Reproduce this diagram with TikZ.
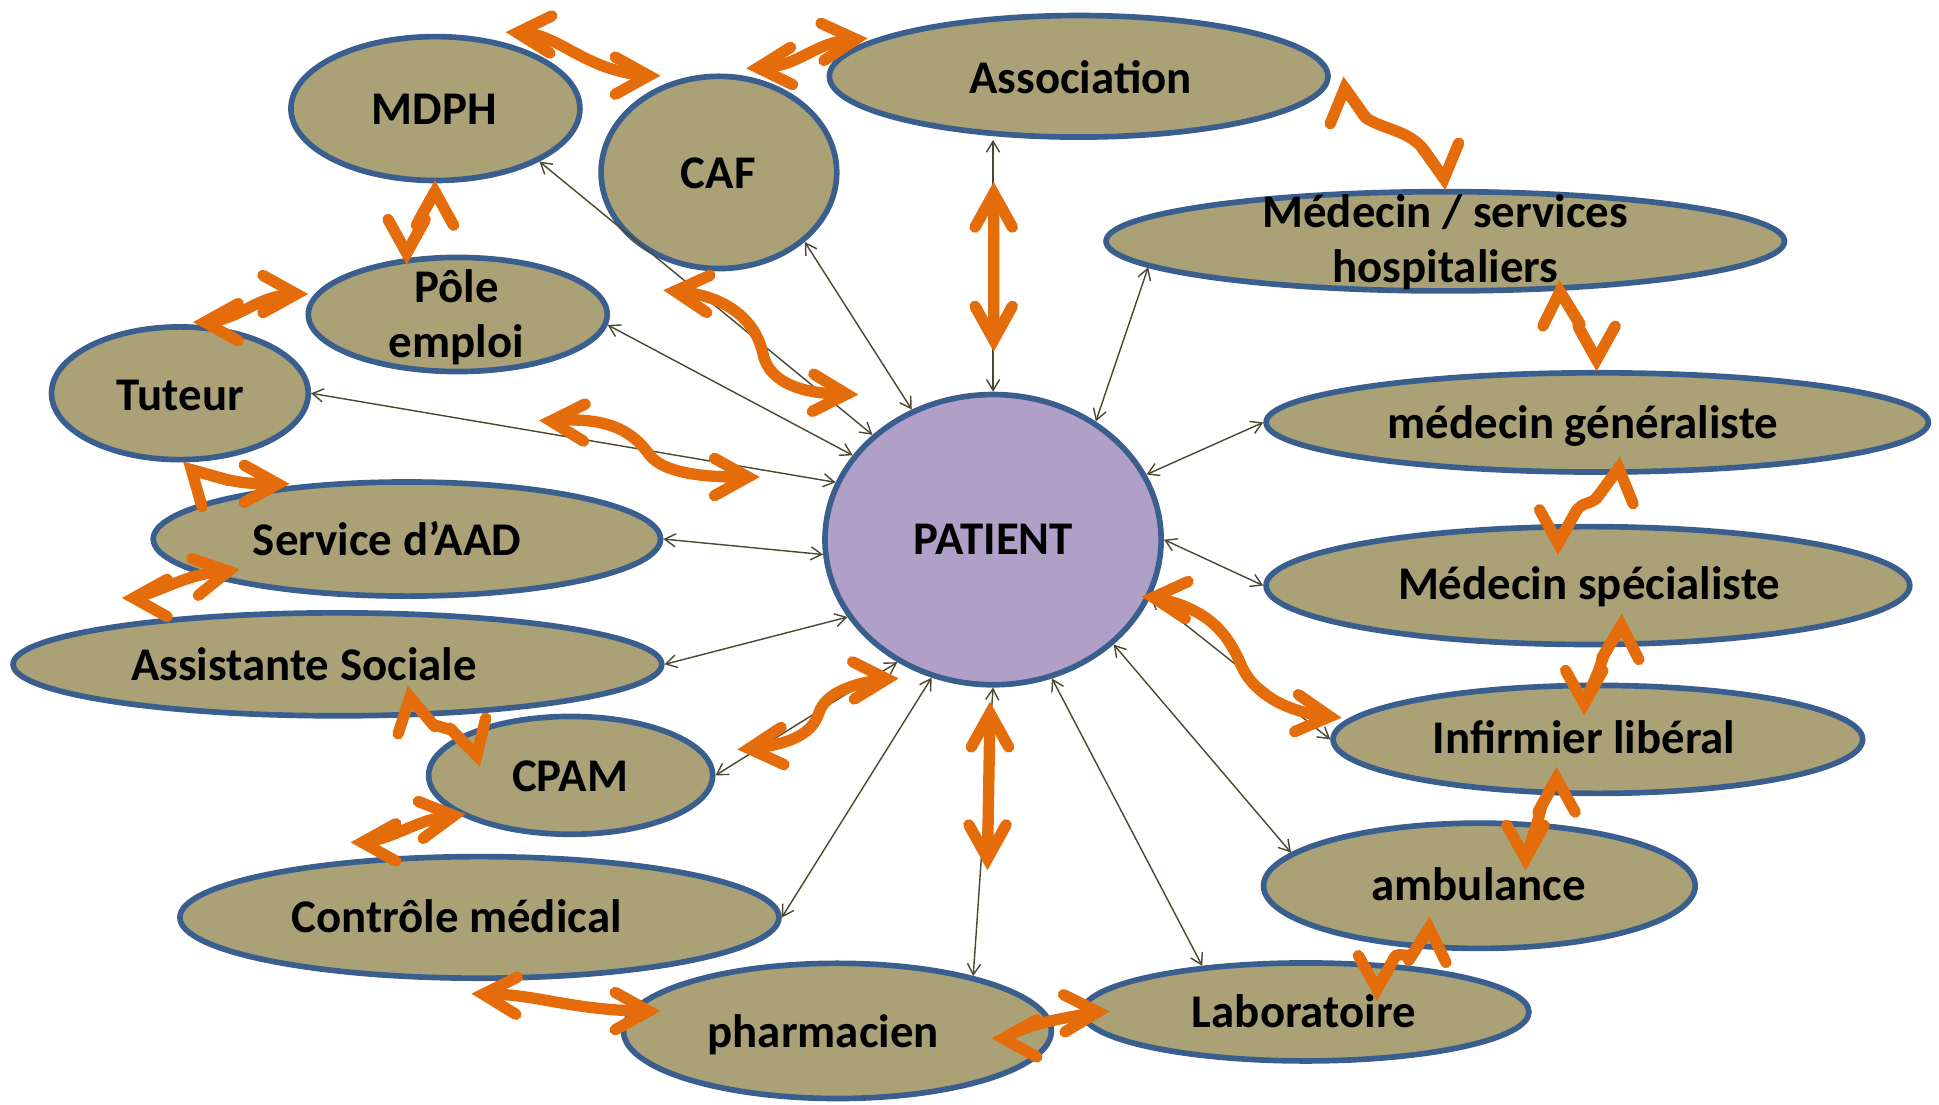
\documentclass[tikz,border=0pt]{standalone}
\usepackage{fontspec}
\setmainfont{Carlito}
\usetikzlibrary{arrows.meta,shapes.geometric,calc}
\definecolor{khaki}{RGB}{170,162,118}
\definecolor{lav}{RGB}{176,160,200}
\definecolor{bord}{RGB}{58,95,142}
\definecolor{orgC}{RGB}{228,108,10}
\definecolor{lineC}{RGB}{75,72,50}
\newcommand\chev[2]{\draw[chevst] ($(#1)+(#2+151:31)$) -- (#1) -- ($(#1)+(#2-151:31)$);}
\begin{document}
\begin{tikzpicture}[x=0.02cm,y=-0.02cm,
  oval/.style={ellipse, draw=bord, line width=2.6pt, fill=khaki, inner sep=0pt},
  txt/.style={font=\fontsize{21.5pt}{25.5pt}\selectfont\bfseries, inner sep=0pt, anchor=base},
  rel/.style={draw=lineC, line width=0.65pt, >={Straight Barb[length=5pt,width=6pt]}, <->},
  flow/.style={draw=orgC, line width=5.2pt, line cap=round, line join=round},
  chevst/.style={draw=orgC, line width=5.2pt, line cap=round, line join=miter}]
\useasboundingbox (0,0) rectangle (1563,890);

% ellipses
\node[oval, minimum width=4.66cm, minimum height=2.32cm] (mdph) at (351,87.5) {};
\node[oval, minimum width=3.80cm, minimum height=3.10cm] (caf) at (579.5,139) {};
\node[oval, minimum width=8.04cm, minimum height=1.96cm] (assoc) at (869.5,61.5) {};
\node[oval, minimum width=10.94cm, minimum height=1.60cm] (serv) at (1165,194.5) {};
\node[oval, minimum width=4.82cm, minimum height=1.84cm] (pole) at (369,253.5) {};
\node[oval, minimum width=4.14cm, minimum height=2.14cm] (tuteur) at (145,317) {};
\node[oval, minimum width=10.68cm, minimum height=1.60cm] (gen) at (1287.5,340.5) {};
\node[oval, fill=lav, minimum width=5.42cm, minimum height=4.68cm] (patient) at (800.5,435) {};
\node[oval, minimum width=8.18cm, minimum height=1.84cm] (aad) at (328,434.5) {};
\node[oval, minimum width=10.38cm, minimum height=1.90cm] (spec) at (1280,472) {};
\node[oval, minimum width=10.46cm, minimum height=1.66cm] (as) at (272,535.5) {};
\node[oval, minimum width=4.58cm, minimum height=1.90cm] (cpam) at (460,625) {};
\node[oval, minimum width=8.54cm, minimum height=1.74cm] (inf) at (1288,596) {};
\node[oval, minimum width=6.96cm, minimum height=2.02cm] (amb) at (1192.5,714) {};
\node[oval, minimum width=9.66cm, minimum height=1.96cm] (ctrl) at (386.5,739.5) {};
\node[oval, minimum width=6.90cm, minimum height=2.18cm] (pharma) at (675,831) {};
\node[oval, minimum width=7.20cm, minimum height=1.58cm] (labo) at (1052.5,815.7) {};

% texts
\node[txt] (mdphT) at (350,100.5) {MDPH};
\node[txt] (cafT) at (579,152) {CAF};
\node[txt] (assocT) at (871,75.2) {Association};
\node[txt] (servT) at (1165,183) {\begin{tabular}[t]{@{}c@{}}Médecin / services\\hospitaliers\end{tabular}};
\node[txt] (poleT) at (368,243.5) {\begin{tabular}[t]{@{}c@{}}Pôle\\emploi\end{tabular}};
\node[txt] (tuteurT) at (145.4,330.6) {Tuteur};
\node[txt] (genT) at (1276,353.3) {médecin généraliste};
\node[txt] (patientT) at (800.7,446.6) {PATIENT};
\node[txt] (aadT) at (312,448) {Service d’AAD};
\node[txt] (specT) at (1281,483.3) {Médecin spécialiste};
\node[txt] (asT) at (245,548.6) {Assistante Sociale};
\node[txt] (cpamT) at (459.6,638) {CPAM};
\node[txt] (infT) at (1277,607.3) {Infirmier libéral};
\node[txt] (ambT) at (1192,726) {ambulance};
\node[txt] (laboT) at (1051,828) {Laboratoire};
\node[txt] (ctrlT) at (368,751.5) {Contrôle médical};
\node[txt] (pharmaT) at (663.6,844.2) {pharmacien};

% thin connectors
\draw[rel] (patient.139) -- (mdph.-27);
\draw[rel] (patient.122) -- (caf.-39);
\draw[rel] (patient.149) -- (pole.-4);
\draw[rel] (patient.160) -- (tuteur.east);
\draw[rel] (patient.185) -- (aad.east);
\draw[rel] (patient.208) -- (as.east);
\draw[rel] (patient.232) -- (cpam.east);
\draw[rel] (patient.246) -- (ctrl.east);
\draw[rel] (patient.south) -- (pharma.22);
\draw[rel] (patient.-67) -- (labo.156);
\draw[rel] (patient.-41) -- (amb.170);
\draw[rel] (patient.-20) -- (inf.west);
\draw[rel] (patient.east) -- (spec.west);
\draw[rel] (patient.23) -- (gen.west);
\draw[rel] (patient.49) -- (serv.185);
\draw[rel] (patient.north) -- (patient.north |- assoc.south);

% orange link end points (tip vertices), anchored to the nodes
\coordinate (a1s) at ($(mdph)+(66,-61.1)$);      \coordinate (a1e) at ($(caf)+(-56.5,-78)$);
\coordinate (a2s) at ($(caf)+(31.5,-84.4)$);     \coordinate (a2e) at ($(assoc)+(-179.5,-29.9)$);
\coordinate (a3s) at ($(assoc)+(214.5,9.5)$);    \coordinate (a3e) at ($(serv)+(-1,-50.5)$);
\coordinate (a4s) at ($(serv)+(92.4,40.5)$);     \coordinate (a4e) at ($(gen)+(-0.5,-50.5)$);
\coordinate (a5s) at ($(gen)+(17.3,36.8)$);      \coordinate (a5e) at ($(spec)+(-24,-34)$);
\coordinate (a6s) at ($(spec)+(27,32)$);         \coordinate (a6e) at ($(inf)+(-11,-28.5)$);
\coordinate (a7s) at ($(inf)+(-33.3,31.5)$);     \coordinate (a7e) at ($(amb)+(37.2,-21.6)$);
\coordinate (a8s) at ($(amb)+(-40.5,34)$);       \coordinate (a8e) at ($(labo)+(57.5,-18.3)$);
\coordinate (a9s) at ($(pharma)+(133.7,6)$);     \coordinate (a9e) at ($(labo)+(-167.5,0)$);
\coordinate (b1s) at ($(patient)+(129.1,46.6)$); \coordinate (b1e) at ($(inf)+(-216,-18.4)$);
\coordinate (b2s) at ($(patient)+(-2.5,140)$);   \coordinate (b2e) at ($(pharma)+(121,-139)$);
\coordinate (b3s) at ($(assoc)+(-68.5,94.5)$);   \coordinate (b3e) at ($(patient)+(0.5,-161)$);
\coordinate (b4s) at ($(caf)+(-35.5,95.7)$);     \coordinate (b4e) at ($(patient)+(-118,-117.3)$);
\coordinate (b5s) at ($(tuteur)+(299,22.4)$);    \coordinate (b5e) at ($(patient)+(-197.5,-50.5)$);
\coordinate (b6s) at ($(tuteur)+(20,-57.3)$);    \coordinate (b6e) at ($(pole)+(-130,-16.5)$);
\coordinate (b7s) at ($(mdph)+(-0.4,67)$);       \coordinate (b7e) at ($(pole)+(-41.2,-49.5)$);
\coordinate (b8s) at ($(tuteur)+(9.3,61.7)$);    \coordinate (b8e) at ($(aad)+(-104,-44.5)$);
\coordinate (b9s) at ($(as)+(-164.3,-53.5)$);    \coordinate (b9e) at ($(aad)+(-144,25.9)$);
\coordinate (c1s) at ($(as)+(58.5,26.5)$);       \coordinate (c1e) at ($(cpam)+(-75.7,-16)$);
\coordinate (c2s) at ($(ctrl)+(-94.5,-60.5)$);   \coordinate (c2e) at ($(cpam)+(-94,32.4)$);
\coordinate (c3s) at ($(cpam)+(143.8,-21.6)$);   \coordinate (c3e) at ($(patient)+(-85.5,112.3)$);
\coordinate (c4s) at ($(ctrl)+(2.9,61.9)$);      \coordinate (c4e) at ($(pharma)+(-152,-16)$);

% orange shafts
\draw[flow] (a1s) .. controls (450,25) and (470,58) .. (a1e);
\draw[flow] (a2s) .. controls (645,55) and (655,33) .. (a2e);
\draw[flow] (a3s) -- (1100,94) .. controls (1112,104) and (1135,104) .. (1148,121) -- (a3e);
\draw[flow] (a4s) -- (1272,259) -- (1273,265) -- (a4e);
\draw[flow] (a5s) -- (1288,400) .. controls (1282,408) and (1276,403) .. (1270,413) -- (a5e);
\draw[flow] (a6s) -- (1293,528) -- (1288,542) -- (a6e);
\draw[flow] (a7s) -- (1243,649) -- (1240,660) -- (a7e);
\draw[flow] (a8s) -- (1140,767) .. controls (1135,774) and (1128,766) .. (1124,772) -- (a8e);
\draw[flow] (a9s) .. controls (830,825) and (850,822) .. (a9e);
\draw[flow] (b1s) .. controls (975,490) and (990,512) .. (1000,535) .. controls (1010,560) and (1040,575) .. (b1e);
\draw[flow] (b2s) -- (b2e);
\draw[flow] (b3s) -- (b3e);
\draw[flow] (b4s) .. controls (590,238) and (610,262) .. (615,285) .. controls (620,310) and (650,318) .. (b4e);
\draw[flow] (b5s) .. controls (490,335) and (510,348) .. (523,366) .. controls (535,383) and (575,385) .. (b5e);
\draw[flow] (b6s) .. controls (195,258) and (205,238) .. (b6e);
\draw[flow] (b7s) -- (338,177) -- (341,180) -- (b7e);
\draw[flow] (b8s) -- (181,386) .. controls (195,390) and (210,390) .. (b8e);
\draw[flow] (b9s) .. controls (135,475) and (150,462) .. (b9e);
\draw[flow] (c1s) -- (349,584) -- (364,588.5) -- (c1e);
\draw[flow] (c2s) .. controls (320,676) and (335,660) .. (c2e);
\draw[flow] (c3s) .. controls (640,600) and (655,590) .. (660,575) .. controls (665,558) and (690,550) .. (c3e);
\draw[flow] (c4s) .. controls (430,800) and (460,815) .. (c4e);

% orange arrow heads
\chev{a1s}{183} \chev{a1e}{0}
\chev{a2s}{177} \chev{a2e}{-4.6}
\chev{a3s}{-96.7} \chev{a3e}{83.5}
\chev{a4s}{-92.8} \chev{a4e}{90}
\chev{a5s}{-83} \chev{a5e}{90}
\chev{a6s}{-88} \chev{a6e}{90}
\chev{a7s}{-90} \chev{a7e}{90}
\chev{a8s}{-87} \chev{a8e}{90}
\chev{a9s}{180} \chev{a9e}{-2.3}
\chev{b1s}{184.4} \chev{b1e}{5.9}
\chev{b2s}{-90} \chev{b2e}{90}
\chev{b3s}{-90} \chev{b3e}{90}
\chev{b4s}{184.8} \chev{b4e}{2.3}
\chev{b5s}{182.6} \chev{b5e}{0}
\chev{b6s}{180} \chev{b6e}{0}
\chev{b7s}{-90} \chev{b7e}{90}
\chev{b8s}{-135} \chev{b8e}{0}
\chev{b9s}{180} \chev{b9e}{-10}
\chev{c1s}{-101} \chev{c1e}{74.6}
\chev{c2s}{180} \chev{c2e}{-7.5}
\chev{c3s}{175.6} \chev{c3e}{-2.5}
\chev{c4s}{182.6} \chev{c4e}{0}
\end{tikzpicture}
\end{document}
